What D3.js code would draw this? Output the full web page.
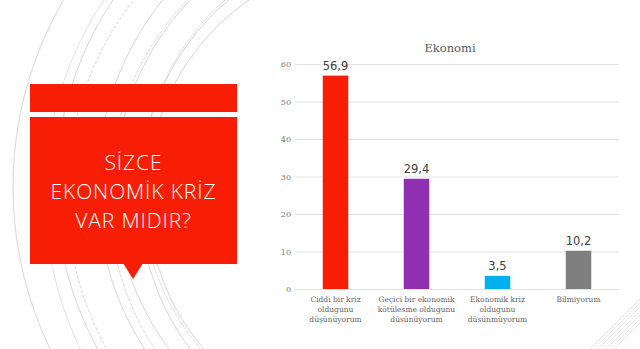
<!DOCTYPE html>
<html><head><meta charset="utf-8">
<script src="https://cdn.jsdelivr.net/npm/d3@7/dist/d3.min.js"></script>
<style>html,body{margin:0;padding:0;background:#fff;overflow:hidden}</style>
</head><body>
<script>
const categories = [
  ["Ciddi bir kriz", "oldugunu", "düşünüyorum"],
  ["Geçici bir ekonomik", "kötülesme oldugunu", "düsünüyorum"],
  ["Ekonomik kriz", "oldugunu", "düsünmüyorum"],
  ["Bilmiyorum"]
];
const values = [56.9, 29.4, 3.5, 10.2];
const valueLabels = ["56,9", "29,4", "3,5", "10,2"];
const colors = ["#f71e05", "#8e30b0", "#00b0ef", "#7f7f7f"];
const yTicks = [0, 10, 20, 30, 40, 50, 60];
const chartTitle = "Ekonomi";
const headline = ["SİZCE", "EKONOMİK KRİZ", "VAR MIDIR?"];
const arcRadii = [238, 250, 258, 270, 282, 300, 318, 335, 352, 372];
const arcDashed = [false, true, false, false, true, false, true, false, true, false];
const diagOffsets = [0, 4, 8, 12, 16, 20, 24];

const W = 640, H = 349;
const svg = d3.select("body").append("svg").attr("width", W).attr("height", H);

// decorative arcs on the left
svg.append("defs").append("clipPath").attr("id", "leftclip")
  .append("rect").attr("x", 0).attr("y", 0).attr("width", 262).attr("height", H);
const arcG = svg.append("g").attr("clip-path", "url(#leftclip)");
const arcGen = d3.arc();
arcRadii.forEach((r, i) => {
  arcG.append("path")
    .attr("transform", `translate(${385 + (i % 3) * 6},${195 - (i % 2) * 8})`)
    .attr("d", arcGen({innerRadius: r, outerRadius: r, startAngle: Math.PI, endAngle: 2 * Math.PI}))
    .attr("fill", "none").attr("stroke", "#d9d9d9").attr("stroke-width", 0.7)
    .attr("stroke-dasharray", arcDashed[i] ? "3,2" : null);
});

// decorative diagonal lines bottom-right
diagOffsets.forEach((o, i) => {
  svg.append("line")
    .attr("x1", 590 + o).attr("y1", H)
    .attr("x2", 650).attr("y2", H - 60 + o)
    .attr("stroke", "#d9d9d9").attr("stroke-width", 0.7)
    .attr("stroke-dasharray", i % 2 ? "2,1.5" : null);
});

// red boxes
svg.append("rect").attr("x", 30).attr("y", 84).attr("width", 207).attr("height", 28).attr("fill", "#f71e05");
svg.append("rect").attr("x", 30).attr("y", 117).attr("width", 207).attr("height", 147).attr("fill", "#f71e05");
svg.append("path").attr("d", d3.line()([[123, 263], [143, 263], [133, 279]])).attr("fill", "#f71e05");
svg.append("g").selectAll("text").data(headline).join("text")
  .attr("x", 133.5).attr("y", (d, i) => 170 + i * 29)
  .attr("text-anchor", "middle")
  .attr("font-family", "'Open Sans', sans-serif").attr("font-weight", 300)
  .attr("font-size", 21).attr("letter-spacing", 0.9).attr("fill", "#fff")
  .text(d => d);

// chart
const x = d3.scaleBand().domain(d3.range(values.length)).range([295, 619]).padding(0);
const y = d3.scaleLinear().domain([0, 60]).range([289, 64]);
const barW = 25.5;

const grid = svg.append("g");
grid.selectAll("line").data(yTicks).join("line")
  .attr("x1", 295).attr("x2", 619)
  .attr("y1", d => y(d) + 0.5).attr("y2", d => y(d) + 0.5)
  .attr("stroke", "#e3e3e3").attr("stroke-width", 1);

const yAxis = svg.append("g").attr("transform", "translate(291,0)")
  .call(d3.axisLeft(y).tickValues(yTicks).tickSize(0).tickPadding(0));
yAxis.select(".domain").remove();
yAxis.selectAll("text").attr("font-family", "'DejaVu Serif', serif").attr("font-size", 8).attr("fill", "#777");

svg.append("g").selectAll("rect").data(values).join("rect")
  .attr("x", (d, i) => x(i) + x.bandwidth() / 2 - barW / 2)
  .attr("width", barW)
  .attr("y", d => y(d))
  .attr("height", d => y(0) - y(d))
  .attr("fill", (d, i) => colors[i]);

svg.append("g").selectAll("text").data(values).join("text")
  .attr("x", (d, i) => x(i) + x.bandwidth() / 2)
  .attr("y", d => y(d) - 6)
  .attr("text-anchor", "middle")
  .attr("font-family", "'DejaVu Sans', sans-serif").attr("font-size", 11.5)
  .attr("fill", "#404040")
  .text((d, i) => valueLabels[i]);

const catG = svg.append("g");
categories.forEach((lines, i) => {
  const t = catG.append("text").attr("text-anchor", "middle")
    .attr("font-family", "'DejaVu Serif', serif").attr("font-size", 7.5).attr("fill", "#666");
  lines.forEach((ln, j) => {
    t.append("tspan").attr("x", x(i) + x.bandwidth() / 2).attr("y", 302 + j * 10).text(ln);
  });
});

svg.append("text").attr("x", 450).attr("y", 52).attr("text-anchor", "middle")
  .attr("font-family", "'DejaVu Serif', serif").attr("font-size", 11.5).attr("fill", "#595959")
  .text(chartTitle);
</script>
</body></html>
